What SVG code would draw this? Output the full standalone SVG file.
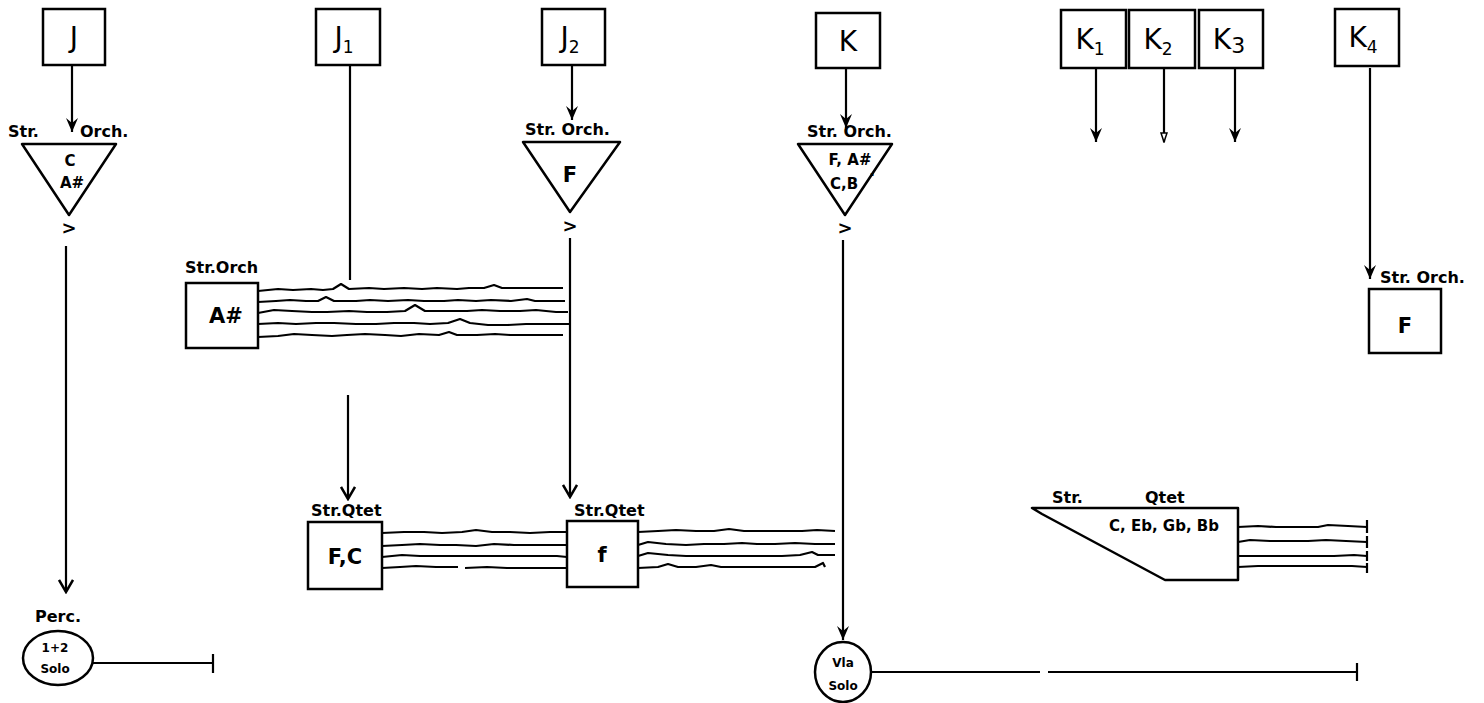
<svg xmlns="http://www.w3.org/2000/svg" width="1484" height="703" viewBox="0 0 1484 703">
<defs>
<style>
.bx{fill:#fff;stroke:#000;stroke-width:2.5}
.sh{fill:#fff;stroke:#000;stroke-width:2.5;stroke-linejoin:round}
.ln{fill:none;stroke:#000;stroke-width:2.2}
.wv{fill:none;stroke:#000;stroke-width:2.2;stroke-linejoin:round}
.big{font-family:"DejaVu Sans",sans-serif;font-size:28px;fill:#000;text-anchor:middle}
.lab{font-family:"DejaVu Sans",sans-serif;font-size:16px;font-weight:bold;fill:#000}
.in{font-family:"DejaVu Sans",sans-serif;font-size:15px;font-weight:bold;fill:#000;text-anchor:middle}
.inb{font-family:"DejaVu Sans",sans-serif;font-size:21px;font-weight:bold;fill:#000;text-anchor:middle}
.sm{font-family:"DejaVu Sans",sans-serif;font-size:12px;font-weight:bold;fill:#000;text-anchor:middle}
.gt{font-family:"DejaVu Sans",sans-serif;font-size:18px;font-weight:bold;fill:#000;text-anchor:middle}
</style>
<marker id="ad" markerWidth="18" markerHeight="18" refX="9" refY="16" markerUnits="userSpaceOnUse" viewBox="0 0 18 18">
<path d="M3,2 L9,16 L15,2 L9,7 Z" fill="#000"/>
</marker>
<marker id="av" markerWidth="16" markerHeight="16" refX="8" refY="14" markerUnits="userSpaceOnUse" viewBox="0 0 16 16">
<path d="M1,2 L8,14 L15,2" fill="none" stroke="#000" stroke-width="2.5"/>
</marker>
<marker id="as" markerWidth="8" markerHeight="12" refX="4" refY="11" markerUnits="userSpaceOnUse" viewBox="0 0 8 12">
<path d="M1,2 L4,11 L7,2 Z" fill="#fff" stroke="#000" stroke-width="1.5"/>
</marker>
</defs>
<rect width="1484" height="703" fill="#fff"/>

<g id="connectors">
<line class="ln" x1="72" y1="65" x2="72" y2="132" marker-end="url(#ad)"/>
<line class="ln" x1="350" y1="65" x2="350" y2="280"/>
<line class="ln" x1="572" y1="65" x2="572" y2="120" marker-end="url(#ad)"/>
<line class="ln" x1="846" y1="68" x2="846" y2="128" marker-end="url(#ad)"/>
<line class="ln" x1="1096" y1="68" x2="1096" y2="142" marker-end="url(#ad)"/>
<line class="ln" x1="1164" y1="68" x2="1164" y2="142" marker-end="url(#as)"/>
<line class="ln" x1="1235" y1="68" x2="1235" y2="142" marker-end="url(#ad)"/>
<line class="ln" x1="1370" y1="68" x2="1370" y2="279" marker-end="url(#ad)"/>
<line class="ln" x1="66" y1="246" x2="66" y2="592" marker-end="url(#av)"/>
<line class="ln" x1="570" y1="238" x2="570" y2="497" marker-end="url(#av)"/>
<line class="ln" x1="348" y1="395" x2="348" y2="499" marker-end="url(#av)"/>
<line class="ln" x1="843" y1="240" x2="843" y2="640" marker-end="url(#ad)"/>
<path class="ln" d="M93,663 L213,663 M213,654 L213,673"/>
<path class="ln" d="M871,672 L1040,672 M1048,672 L1357,672 M1357,663 L1357,681"/>
</g>

<g id="node-J">
<rect class="bx" x="43" y="9" width="62" height="56"/>
<text class="big" x="74" y="47">J</text>
</g>
<g id="node-J1">
<rect class="bx" x="316" y="9" width="64" height="56"/>
<text class="big" x="344" y="47">J<tspan font-size="17" dy="6">1</tspan></text>
</g>
<g id="node-J2">
<rect class="bx" x="542" y="9" width="63" height="56"/>
<text class="big" x="570" y="47">J<tspan font-size="17" dy="6">2</tspan></text>
</g>
<g id="node-K">
<rect class="bx" x="816" y="13" width="64" height="55"/>
<text class="big" x="848" y="51">K</text>
</g>
<g id="node-K1">
<rect class="bx" x="1061" y="10" width="65" height="58"/>
<text class="big" x="1090" y="49">K<tspan font-size="17" dy="6">1</tspan></text>
</g>
<g id="node-K2">
<rect class="bx" x="1129" y="10" width="66" height="58"/>
<text class="big" x="1158" y="49">K<tspan font-size="17" dy="6">2</tspan></text>
</g>
<g id="node-K3">
<rect class="bx" x="1199" y="10" width="64" height="58"/>
<text class="big" x="1229" y="49">K<tspan font-size="22" dy="4">3</tspan></text>
</g>
<g id="node-K4">
<rect class="bx" x="1335" y="9" width="64" height="57"/>
<text class="big" x="1363" y="47">K<tspan font-size="17" dy="6">4</tspan></text>
</g>

<g id="node-J-orch">
<text class="lab" x="8" y="137">Str.</text>
<text class="lab" x="80" y="137">Orch.</text>
<polygon class="sh" points="22,144 116,144 69,215"/>
<text class="in" x="70" y="166">C</text>
<text class="in" x="72" y="188">A#</text>
<text class="gt" x="69" y="234">&gt;</text>
</g>
<g id="node-J2-orch">
<text class="lab" x="525" y="135">Str. Orch.</text>
<polygon class="sh" points="523,142 620,142 570,212"/>
<text class="inb" x="570" y="182">F</text>
<text class="gt" x="570" y="232">&gt;</text>
</g>
<g id="node-K-orch">
<text class="lab" x="807" y="137">Str. Orch.</text>
<polygon class="sh" points="798,144 892,144 845,215"/>
<text class="in" x="850" y="165">F, A#</text>
<text class="in" x="844" y="189">C,B</text>
<text class="in" x="872" y="176">.</text>
<text class="gt" x="845" y="234">&gt;</text>
</g>
<g id="node-J1-orch">
<text class="lab" x="185" y="273">Str.Orch</text>
<rect class="bx" x="186" y="283" width="72" height="65"/>
<text class="inb" x="226" y="323">A#</text>
<path class="wv" d="M258,291 l20,-2 l15,1 l18,-1 l12,1 l10,-1 l8,-5 l8,5 l20,-1 l15,1 l20,-1 l18,1 l15,-1 l20,1 l12,-1 l15,0 l10,-3 l8,3 l20,0 l21,0 l20,0"/>
<path class="wv" d="M258,302 l18,-1 l14,-1 l16,1 l12,0 l8,-4 l8,4 l22,0 l14,-1 l18,1 l20,-1 l16,1 l20,0 l14,-1 l18,1 l15,-1 l20,1 l16,-2 l8,2 l20,0 l10,0"/>
<path class="wv" d="M258,313 l16,-3 l18,1 l20,1 l15,0 l22,-1 l18,1 l20,0 l18,-1 l10,-6 l10,6 l22,0 l20,0 l15,-1 l18,1 l20,0 l16,-1 l20,2 l12,0"/>
<path class="wv" d="M258,324 l20,-1 l18,1 l20,-1 l18,0 l22,1 l20,0 l18,-1 l20,0 l16,1 l18,-1 l12,-4 l10,4 l18,2 l20,0 l18,-1 l20,0 l24,0"/>
<path class="wv" d="M258,337 l20,-1 l16,-2 l18,1 l20,1 l15,-1 l18,-1 l20,1 l16,1 l18,-2 l20,1 l10,-3 l8,3 l20,0 l18,-1 l15,1 l18,0 l15,0 l20,0"/>
</g>
<g id="node-K4-orch">
<text class="lab" x="1380" y="283">Str. Orch.</text>
<rect class="bx" x="1369" y="289" width="72" height="64"/>
<text class="inb" x="1405" y="333">F</text>
</g>
<g id="node-qtet-1">
<text class="lab" x="311" y="516">Str.Qtet</text>
<rect class="bx" x="308" y="522" width="74" height="67"/>
<text class="inb" x="345" y="564">F,C</text>
<path class="wv" d="M382,533 l22,-1 l20,0 l18,1 l20,-1 l14,-2 l16,2 l18,0 l20,1 l20,-1 l17,0"/>
<path class="wv" d="M382,546 l20,-1 l18,-1 l20,1 l16,0 l20,1 l18,-2 l20,1 l20,0 l18,0 l15,0"/>
<path class="wv" d="M382,557 l20,-2 l18,1 l22,0 l20,0 l18,0 l20,0 l20,0 l20,0 l17,0 l10,1"/>
<path class="wv" d="M382,568 l18,-1 l16,-1 l20,1 l14,0 l8,0 M465,568 l22,-1 l20,1 l20,0 l20,0 l20,0"/>
</g>
<g id="node-qtet-2">
<text class="lab" x="574" y="516">Str.Qtet</text>
<rect class="bx" x="567" y="521" width="71" height="66"/>
<text class="inb" x="602" y="562">f</text>
<path class="wv" d="M638,532 l20,-1 l18,-1 l20,1 l18,0 l15,-2 l15,2 l20,0 l18,0 l20,0 l15,-1 l18,1"/>
<path class="wv" d="M638,545 l10,-3 l18,2 l20,1 l18,-1 l20,0 l18,-1 l15,1 l18,0 l20,-1 l20,1 l20,0"/>
<path class="wv" d="M638,556 l10,-3 l20,2 l18,1 l20,0 l20,0 l18,0 l20,0 l18,0 l18,-1 l12,-3 l6,3 l17,0"/>
<path class="wv" d="M638,568 l20,-1 l10,-3 l10,3 l18,0 l15,-2 l10,2 l20,0 l18,0 l20,0 l20,0 l16,0 l8,-4 l2,4"/>
</g>
<g id="node-qtet-3">
<text class="lab" x="1052" y="503" font-size="18">Str.</text>
<text class="lab" x="1145" y="503" font-size="18">Qtet</text>
<path class="sh" d="M1032,508 L1238,508 L1238,580 L1165,580 L1042,514 Z"/>
<text class="in" x="1164" y="531" font-size="16">C, Eb, Gb, Bb</text>
<path class="wv" d="M1238,527 l20,-1 l18,1 l20,0 l22,0 l10,-2 l20,1 l19,1"/>
<path class="wv" d="M1238,542 l12,-2 l20,1 l18,0 l20,0 l18,-1 l20,1 l21,1"/>
<path class="wv" d="M1238,556 l20,0 l20,0 l18,0 l20,0 l18,0 l20,-1 l13,1"/>
<path class="wv" d="M1238,567 l20,-1 l18,0 l20,0 l18,0 l20,0 l18,0 l15,1"/>
<path class="ln" d="M1367,520 L1367,533 M1367,536 L1367,548 M1367,551 L1367,561 M1367,563 L1367,573"/>
</g>
<g id="node-perc">
<text class="lab" x="35" y="622">Perc.</text>
<ellipse class="bx" cx="58" cy="658" rx="35" ry="27"/>
<text class="sm" x="55" y="652">1+2</text>
<text class="sm" x="55" y="673">Solo</text>
</g>
<g id="node-vla">
<ellipse class="bx" cx="843" cy="672" rx="28" ry="30"/>
<text class="sm" x="843" y="667" font-size="13">Vla</text>
<text class="sm" x="843" y="690">Solo</text>
</g>
</svg>
